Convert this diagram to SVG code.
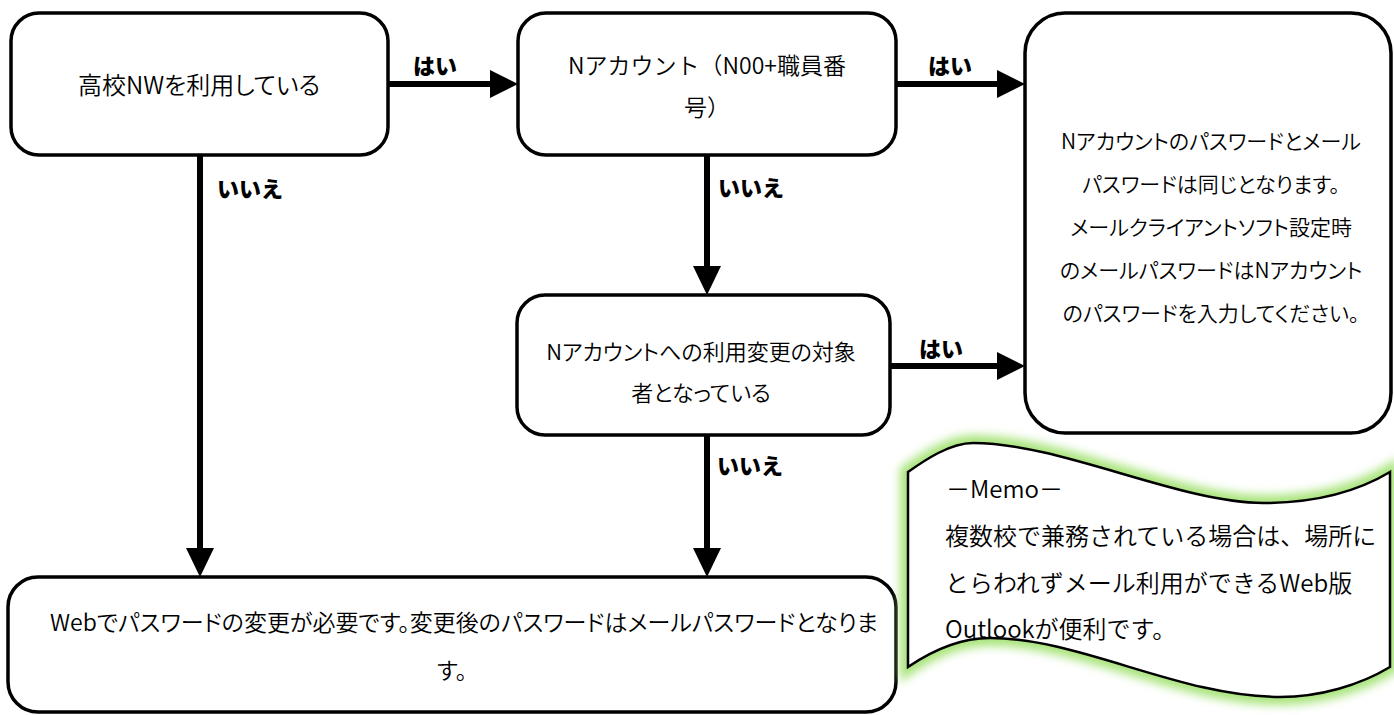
<svg xmlns="http://www.w3.org/2000/svg" width="1394" height="715" viewBox="0 0 1394 715">
<defs>
<style>
.box{fill:#fff;stroke:#000;stroke-width:3.5}
.t{font-family:"Noto Sans CJK JP","Noto Sans",sans-serif;font-size:22px;font-weight:350;fill:#000;text-anchor:middle;font-feature-settings:"palt"}
.lbl{font-family:"Noto Sans CJK JP","Noto Sans",sans-serif;font-size:22px;font-weight:900;fill:#000}
.ln{stroke:#000;stroke-width:6;fill:none}
.ah{fill:#000}
.memo{font-family:"Noto Sans CJK JP","Noto Sans",sans-serif;font-size:24px;font-weight:350;fill:#000}
</style>
<filter id="glow" x="-10%" y="-20%" width="120%" height="140%">
<feGaussianBlur stdDeviation="5"/>
</filter>
</defs>
<rect width="1394" height="715" fill="#fff"/>
<g id="connectors">
<line class="ln" x1="388" y1="84" x2="492" y2="84"/>
<polygon class="ah" points="490,70 518,84 490,98"/>
<line class="ln" x1="896" y1="84" x2="999" y2="84"/>
<polygon class="ah" points="997,70 1025,84 997,98"/>
<line class="ln" x1="890" y1="366" x2="999" y2="366"/>
<polygon class="ah" points="997,352 1025,366 997,380"/>
<line class="ln" x1="707" y1="155" x2="707" y2="268"/>
<polygon class="ah" points="693,266 707,295 721,266"/>
<line class="ln" x1="707" y1="435" x2="707" y2="550"/>
<polygon class="ah" points="693,548 707,577 721,548"/>
<line class="ln" x1="200" y1="155" x2="200" y2="550"/>
<polygon class="ah" points="186,548 200,577 214,548"/>
<text class="lbl" x="413" y="74">はい</text>
<text class="lbl" x="928" y="74">はい</text>
<text class="lbl" x="919" y="357">はい</text>
<text class="lbl" x="217" y="197">いいえ</text>
<text class="lbl" x="718" y="196">いいえ</text>
<text class="lbl" x="717" y="474">いいえ</text>
</g>
<g id="n1">
<rect class="box" x="11" y="13" width="377" height="142" rx="28"/>
<text class="t" x="199" y="94" style="font-size:24px">高校NWを利用している</text>
</g>
<g id="n2">
<rect class="box" x="518" y="13" width="378" height="142" rx="28"/>
<text class="t" x="707" y="74" style="font-size:23px;font-feature-settings:normal">Nアカウント（N00+職員番</text>
<text class="t" x="707" y="116" style="font-size:23px;font-feature-settings:normal">号）</text>
</g>
<g id="n3">
<rect class="box" x="1025" y="13" width="366" height="420" rx="40"/>
<text class="t" x="1211" y="149" style="font-size:21px">Nアカウントのパスワードとメール</text>
<text class="t" x="1211" y="192" style="font-size:21px">パスワードは同じとなります。</text>
<text class="t" x="1211" y="235" style="font-size:21px">メールクライアントソフト設定時</text>
<text class="t" x="1211" y="278" style="font-size:21px">のメールパスワードはNアカウント</text>
<text class="t" x="1211" y="321" style="font-size:21px">のパスワードを入力してください。</text>
</g>
<g id="n4">
<rect class="box" x="517" y="295" width="373" height="140" rx="28"/>
<text class="t" x="701" y="360">Nアカウントへの利用変更の対象</text>
<text class="t" x="701" y="401">者となっている</text>
</g>
<g id="n5">
<rect class="box" x="8" y="577" width="888" height="135" rx="30"/>
<text class="t" x="464" y="631" style="font-size:23px">Webでパスワードの変更が必要です。変更後のパスワードはメールパスワードとなりま</text>
<text class="t" x="452" y="679" style="font-size:23px">す。</text>
</g>
<g id="memo">
<path d="M908,472 C925,460 950,443 973,443 C1060,443 1180,503 1263,503 C1320,503 1360,490 1390,472 L1390,667 C1360,685 1320,697 1280,697 C1180,697 1080,638 990,638 C960,638 930,652 908,667 Z" fill="none" stroke="#a8e47a" stroke-width="16" filter="url(#glow)"/>
<path d="M908,472 C925,460 950,443 973,443 C1060,443 1180,503 1263,503 C1320,503 1360,490 1390,472 L1390,667 C1360,685 1320,697 1280,697 C1180,697 1080,638 990,638 C960,638 930,652 908,667 Z" fill="#fff" stroke="#000" stroke-width="2.5"/>
<text class="memo" x="946" y="498">－Memo－</text>
<text class="memo" x="945" y="545">複数校で兼務されている場合は、場所に</text>
<text class="memo" x="945" y="592">とらわれずメール利用ができるWeb版</text>
<text class="memo" x="945" y="638">Outlookが便利です。</text>
</g>
</svg>
